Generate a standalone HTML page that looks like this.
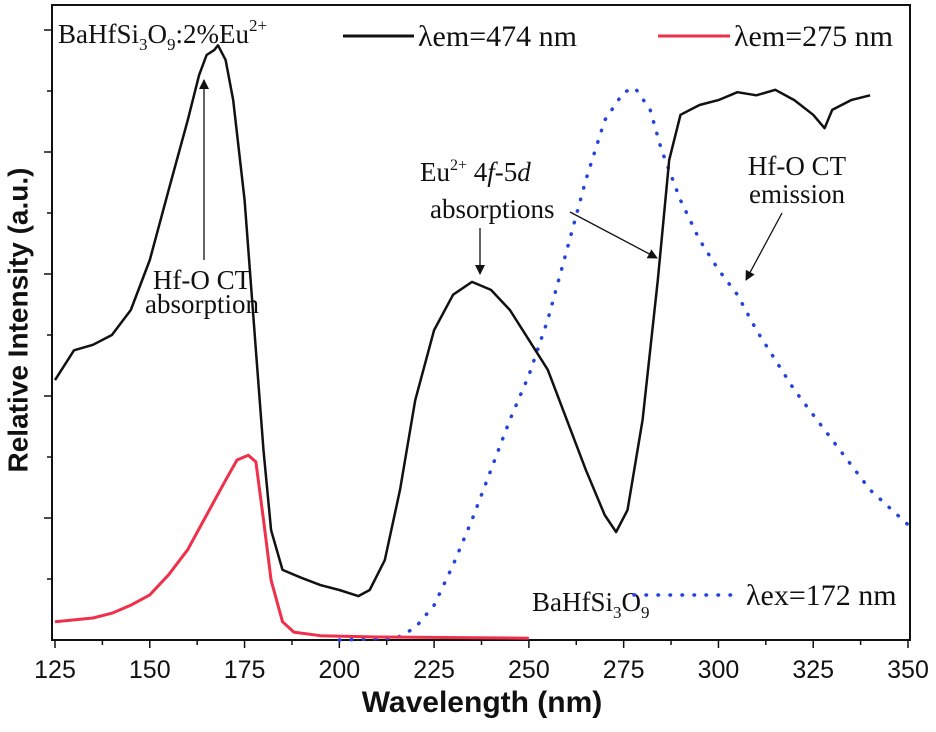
<!DOCTYPE html>
<html><head><meta charset="utf-8"><style>
body{margin:0;background:#fff;}
svg{display:block;}
.t{font-family:"Liberation Serif",serif;font-size:27px;fill:#111;}
.lg{font-family:"Liberation Serif",serif;font-size:30px;fill:#111;}
.tk{font-family:"Liberation Sans Narrow","Liberation Sans",sans-serif;font-size:25px;fill:#111;}
</style></head><body>
<svg id="chart" width="936" height="732" viewBox="0 0 936 732">
<defs><marker id="ah" markerWidth="10" markerHeight="12" refX="9" refY="6" orient="auto" markerUnits="userSpaceOnUse"><path d="M0,1 L10,6 L0,11 z" fill="#111"/></marker></defs>
<rect x="52" y="5" width="858" height="635" fill="none" stroke="#111" stroke-width="2"/>
<g id="axes"></g>
<g id="series"></g>
<text x="20" y="320" transform="rotate(-90 20 320)" text-anchor="middle" dominant-baseline="middle" font-family="Liberation Sans Narrow,Liberation Sans,sans-serif" font-weight="bold" font-size="28" fill="#111">Relative Intensity (a.u.)</text>
<text x="482" y="712" text-anchor="middle" font-family="Liberation Sans Narrow,Liberation Sans,sans-serif" font-weight="bold" font-size="30" fill="#111">Wavelength (nm)</text>
<g>
<text class="t" x="58" y="43">BaHfSi<tspan font-size="17" dy="7">3</tspan><tspan dy="-7">O</tspan><tspan font-size="17" dy="7">9</tspan><tspan dy="-7">:2%Eu</tspan><tspan font-size="17" dy="-12">2+</tspan></text>
<line x1="343" y1="36" x2="414" y2="36" stroke="#111" stroke-width="3"/>
<text class="lg" x="418" y="46">λem=474 nm</text>
<line x1="658" y1="36" x2="730" y2="36" stroke="#f0304a" stroke-width="3"/>
<text class="lg" x="734" y="46">λem=275 nm</text>
<text class="t" x="532" y="611">BaHfSi<tspan font-size="17" dy="7">3</tspan><tspan dy="-7">O</tspan><tspan font-size="17" dy="7">9</tspan></text>
<line x1="634" y1="595" x2="742" y2="595" stroke="#2244dd" stroke-width="3.5" stroke-dasharray="0.5,11.5" stroke-linecap="round"/>
<text class="lg" x="746" y="605">λex=172 nm</text>
</g>
<g>
<text class="t" x="202" y="289" text-anchor="middle">Hf-O CT</text>
<text class="t" x="202" y="313" text-anchor="middle">absorption</text>
<line x1="204" y1="260" x2="204" y2="80" stroke="#111" stroke-width="1.3" marker-end="url(#ah)"/>
<text class="t" x="420" y="181">Eu<tspan font-size="16" dy="-11">2+</tspan><tspan dy="11"> 4</tspan><tspan font-style="italic">f</tspan>-5<tspan font-style="italic">d</tspan></text>
<text class="t" x="430" y="218">absorptions</text>
<line x1="480" y1="228" x2="480" y2="274" stroke="#111" stroke-width="1.3" marker-end="url(#ah)"/>
<line x1="570" y1="212" x2="657" y2="258" stroke="#111" stroke-width="1.3" marker-end="url(#ah)"/>
<text class="t" x="797" y="175" text-anchor="middle">Hf-O CT</text>
<text class="t" x="797" y="203" text-anchor="middle">emission</text>
<line x1="782" y1="213" x2="746" y2="280" stroke="#111" stroke-width="1.3" marker-end="url(#ah)"/>
</g>
</svg>
<script>
const xTicks=[125,150,175,200,225,250,275,300,325,350];
const blackNm=[125,130,135,140,145,150,155,160,163,165,167,168,170,172,175,178,180,182,185,190,195,200,205,208,212,216,220,225,230,235,240,245,250,255,260,265,270,273,276,280,284,287,290,295,300,305,310,315,320,325,328,330,335,340];
const blackVal=[4.26,4.75,4.84,5.0,5.41,6.23,7.38,8.52,9.26,9.59,9.67,9.75,9.51,8.85,7.21,4.75,3.11,1.8,1.15,1.02,0.9,0.82,0.72,0.82,1.31,2.46,3.93,5.08,5.66,5.87,5.74,5.41,4.92,4.43,3.61,2.79,2.05,1.77,2.13,3.61,5.9,7.87,8.61,8.77,8.85,8.98,8.93,9.02,8.85,8.61,8.39,8.69,8.85,8.93];
const redNm=[125,130,135,140,145,150,155,160,165,170,173,176,178,180,182,185,188,195,210,250];
const redVal=[0.3,0.33,0.36,0.44,0.57,0.74,1.07,1.48,2.05,2.62,2.95,3.03,2.92,1.97,0.98,0.3,0.13,0.07,0.05,0.03];
const blueNm=[200,215,220,225,230,235,240,245,250,255,260,265,270,275,278,282,285,290,295,300,305,310,320,330,340,350];
const blueVal=[0,0.03,0.2,0.57,1.23,1.97,2.79,3.61,4.34,5.25,6.39,7.54,8.52,8.98,9.05,8.69,8.03,7.21,6.56,6.07,5.66,5.08,4.1,3.28,2.46,1.89];
const X=v=>55+(v-125)*(908-55)/225;
const Y=v=>640-v*61;
const NS="http://www.w3.org/2000/svg";
const axes=document.getElementById('axes');
const ser=document.getElementById('series');
function mk(tag,attrs,parent){const e=document.createElementNS(NS,tag);for(const k in attrs)e.setAttribute(k,attrs[k]);parent.appendChild(e);return e;}
const xa=mk('line',{x1:52,y1:640,x2:910,y2:640,stroke:'#111','stroke-width':2},axes);


for(let v=125;v<=350;v+=12.5){const major=xTicks.includes(v);
const t=mk('line',{x1:X(v),y1:640,x2:X(v),y2:640+(major?8:5),stroke:'#111','stroke-width':1.5},axes);

}
xTicks.forEach(v=>{const t=mk('text',{x:X(v),y:678,'text-anchor':'middle',class:'tk'},axes);t.textContent=v;

});
for(let k=1;k<=10;k++){const t=mk('line',{x1:44+(k%2?3:0),y1:Y(k),x2:52,y2:Y(k),stroke:'#111','stroke-width':1.5},axes);

}
function path(nm,val,attrs,name){const d=nm.map((n,i)=>(i?'L':'M')+X(n).toFixed(1)+','+Y(val[i]).toFixed(1)).join(' ');
const p=mk('path',Object.assign({d:d,fill:'none'},attrs),ser);

}
path(blueNm,blueVal,{stroke:'#2244dd','stroke-width':3.5,'stroke-dasharray':'0.5,11.5','stroke-linecap':'round'},'series-emission-ex172');
path(redNm,redVal,{stroke:'#f0304a','stroke-width':3,'stroke-linejoin':'round'},'series-excitation-em275');
path(blackNm,blackVal,{stroke:'#111','stroke-width':2.5,'stroke-linejoin':'round'},'series-excitation-em474');
</script>
</body></html>
